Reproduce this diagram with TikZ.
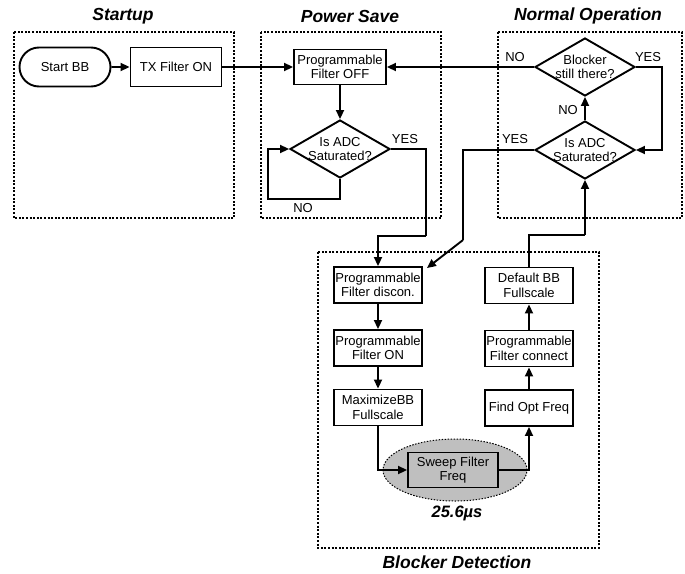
\documentclass[tikz,border=0pt]{standalone}
\usepackage{fontspec}
\setmainfont{Liberation Sans}
\usetikzlibrary{arrows.meta,shapes.geometric,shapes.misc,calc}
\begin{document}
\begin{tikzpicture}[x=1pt,y=-1pt,
  every node/.style={font=\fontsize{13}{14.5}\selectfont},
  box/.style={draw,line width=1.9pt,rectangle,align=center,inner sep=0pt,
    minimum width=88pt,minimum height=36pt},
  term/.style={draw,line width=1.9pt,rounded rectangle,inner sep=0pt,
    minimum width=91pt,minimum height=39pt},
  dia/.style={draw,line width=1.9pt,diamond,inner sep=0pt,
    minimum width=100pt,minimum height=58pt},
  frame/.style={draw,line width=1.5pt,dash pattern=on 2pt off 1.6pt},
  arr/.style={line width=1.9pt,-{Triangle[length=9pt,width=8pt]}},
  ln/.style={line width=1.9pt},
  lab/.style={font=\fontsize{13}{14.5}\selectfont,inner sep=0pt},
  ttl/.style={font=\fontsize{17.5}{20}\selectfont\bfseries\itshape,inner sep=0pt},
  dtext/.style={align=center,inner sep=0pt,font=\fontsize{13}{14.5}\selectfont}]
\useasboundingbox (0,0) rectangle (685,573);

% section frames
\draw[frame] (14,32) rectangle (234,218);
\draw[frame] (261,32) rectangle (441,218);
\draw[frame] (498,32) rectangle (682,218);
\draw[frame] (318,252) rectangle (599,548);

% section titles
\node[ttl] (tStart) at (123,16) {Startup};
\node[ttl] (tPower) at (350,16) {Power Save};
\node[ttl] (tNormal) at (588,16) {Normal Operation};
\node[ttl] (tBlock) at (457,562) {Blocker Detection};

% startup
\node[term] (start) at (65,67) {Start BB};
\node[box,minimum width=91pt,minimum height=39pt] (tx) at (176,67) {TX Filter ON};

% power save
\node[box,minimum width=92pt,minimum height=35pt] (pfoff) at (340,67) {Programmable\\Filter OFF};
\node[dia,label={[dtext]center:Is ADC\\Saturated?}] (adc1) at (340,149) {};
\coordinate (noLoop) at (268,199);
\coordinate (yesPS) at (426,236);

% normal operation
\node[dia,label={[dtext]center:Blocker\\still there?}] (blk) at (585,67) {};
\node[dia,label={[dtext]center:Is ADC\\Saturated?}] (adc2) at (585,150) {};
\coordinate (yesLoop) at (662,108);
\coordinate (yesNO) at (463,240);
\coordinate (backUp) at (585,235);

% blocker detection
\node[box] (pfd) at (378,285) {Programmable\\Filter discon.};
\node[box] (pfon) at (378,348) {Programmable\\Filter ON};
\node[box] (maxbb) at (378,407.5) {MaximizeBB\\Fullscale};
\node[box] (dflt) at (529,285.5) {Default BB\\Fullscale};
\node[box] (pfc) at (529,348.5) {Programmable\\Filter connect};
\node[box] (find) at (529,408) {Find Opt Freq};
\node[ellipse,fill=black!25,draw,line width=1pt,dash pattern=on 1.5pt off 1.5pt,
  minimum width=144pt,minimum height=62pt,inner sep=0pt] (sweepbg) at (455,470) {};
\node[box,fill=black!25,minimum width=90pt,minimum height=35pt] (sweep) at (453,470) {Sweep Filter\\Freq};
\node[ttl,font=\fontsize{16.5}{18}\selectfont\bfseries\itshape] (tDur) at (457,513) {25.6µs};

% connectors
\draw[arr] (start) -- (tx);
\draw[arr] (tx) -- (pfoff);
\draw[arr] (blk.west) -- (pfoff.east);
\draw[arr] (pfoff) -- (adc1);
\draw[arr] (adc1.south) |- (noLoop) |- (adc1.west);
\draw[ln] (adc1.east) -| (yesPS);
\draw[arr] (yesPS) -| (pfd.north);
\draw[arr] (adc2.north) -- (blk.south);
\draw[ln] (blk.east) -| (yesLoop);
\draw[arr] (yesLoop) |- (adc2.east);
\draw[ln] (adc2.west) -| (yesNO);
\draw[arr] (yesNO) -- ([xshift=4pt,yshift=-2pt]pfd.north east);
\draw[ln] (dflt.north) |- (backUp);
\draw[arr] (backUp) -- (adc2.south);
\draw[arr] (pfd) -- (pfon);
\draw[arr] (pfon) -- (maxbb);
\draw[arr] (maxbb.south) |- (sweep.west);
\draw[arr] (sweep.east) -| (find.south);
\draw[arr] (find) -- (pfc);
\draw[arr] (pfc) -- (dflt);

% branch labels
\node[lab] (lNo1) at (515,57) {NO};
\node[lab] (lYes1) at (648,57) {YES};
\node[lab] (lNo2) at (568,110) {NO};
\node[lab] (lYes2) at (515,139) {YES};
\node[lab] (lYes3) at (405,139) {YES};
\node[lab] (lNo3) at (303,208) {NO};
\end{tikzpicture}
\end{document}
